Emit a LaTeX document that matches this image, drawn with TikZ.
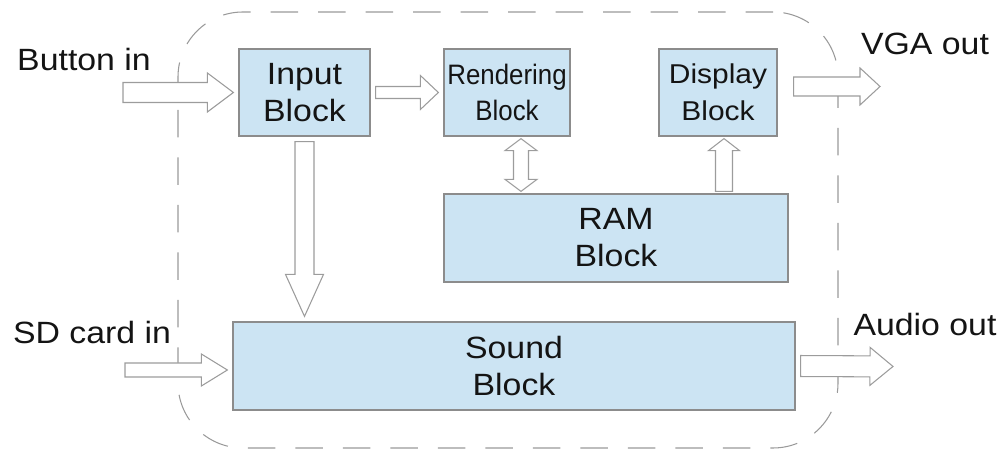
\documentclass[tikz,border=0pt]{standalone}
\usepackage{fontspec}
\setmainfont{Liberation Sans}[FakeStretch=1.1]
\newfontfamily\narrowFont{Liberation Sans}[FakeStretch=0.92]
\usetikzlibrary{positioning, calc}
\definecolor{blockBlue}{HTML}{CCE4F3}
\definecolor{blockEdge}{HTML}{8C8C8C}
\definecolor{arrowEdge}{HTML}{9C9C9C}
\definecolor{frameGray}{HTML}{9A9A9A}
\definecolor{inkBlack}{HTML}{141414}

\begin{document}
\begin{tikzpicture}[
    arrGap/.store in=\arrGap, arrGap=1mm,
    ioBlock/.style={draw=blockEdge, line width=0.7pt, rectangle, fill=blockBlue, text=inkBlack, align=center, inner sep=0pt, font=\fontsize{17.5}{21}\selectfont, minimum height=1.74cm},
    ioLabel/.style={text=inkBlack, inner sep=0pt, font=\fontsize{17.5}{21}\selectfont},
    chipFrame/.style={draw=frameGray, line width=0.6pt, rectangle, rounded corners=1.3cm, dash pattern=on 0.55cm off 0.4cm},
    fatArrow/.style n args={3}{draw=arrowEdge, fill=white, line width=0.6pt, to path={
        let \p1=($(\tikztostart)!\arrGap!(\tikztotarget)$), \p2=($(\tikztotarget)!\arrGap!(\tikztostart)$),
            \p3=($(\p2)-(\p1)$), \n1={veclen(\x3,\y3)}, \n2={atan2(\y3,\x3)} in
        [shift={(\p1)}, rotate=\n2]
        (0pt,-#1/2) -- ({\n1*1pt-#3},-#1/2) -- ({\n1*1pt-#3},-#2/2) -- ({\n1*1pt},0pt)
        -- ({\n1*1pt-#3},#2/2) -- ({\n1*1pt-#3},#1/2) -- (0pt,#1/2) -- cycle}},
    fatArrowBoth/.style n args={3}{draw=arrowEdge, fill=white, line width=0.6pt, to path={
        let \p1=($(\tikztostart)!\arrGap!(\tikztotarget)$), \p2=($(\tikztotarget)!\arrGap!(\tikztostart)$),
            \p3=($(\p2)-(\p1)$), \n1={veclen(\x3,\y3)}, \n2={atan2(\y3,\x3)} in
        [shift={(\p1)}, rotate=\n2]
        (0pt,0pt) -- (#3,#2/2) -- (#3,#1/2) -- ({\n1*1pt-#3},#1/2) -- ({\n1*1pt-#3},#2/2) -- ({\n1*1pt},0pt)
        -- ({\n1*1pt-#3},-#2/2) -- ({\n1*1pt-#3},-#1/2) -- (#3,-#1/2) -- (#3,-#2/2) -- cycle}},
]
\useasboundingbox (0,0) rectangle (20.06,9.10);
\node[chipFrame, minimum width=13.2cm, minimum height=8.72cm] (chip) at (10.16,4.5) {};
\node[ioBlock, minimum width=2.62cm] (inb) at (6.09,7.25) {Input\\Block};
\node[ioBlock, minimum width=2.52cm, font=\narrowFont\fontsize{16}{21}\selectfont] (rend) at (10.14,7.25) {Rendering\\Block};
\node[ioBlock, minimum width=2.36cm, font=\fontsize{15.5}{21}\selectfont] (disp) at (14.36,7.25) {Display\\Block};
\node[ioBlock, minimum width=6.88cm, minimum height=1.76cm] (ram) at (12.32,4.34) {RAM\\Block};
\node[ioBlock, minimum width=11.24cm, minimum height=1.76cm] (snd) at (10.28,1.78) {Sound\\Block};
\node[ioLabel] (btnLbl) at (1.68,7.9) {Button in};
\node[ioLabel] (sdLbl) at (1.84,2.44) {SD card in};
\node[ioLabel] (vgaLbl) at (18.5,8.22) {VGA out};
\node[ioLabel] (audLbl) at (18.5,2.6) {Audio out};
\coordinate (btnTail) at (2.36,7.25);
\coordinate (sdTail) at (2.40,1.70);
\coordinate (vgaTail) at ([xshift=0.22cm, yshift=0.12cm]disp.east);
\coordinate (vgaTip) at (17.7,7.37);
\coordinate (audTip) at (17.96,1.77);
\coordinate (rendLink) at ([xshift=0.28cm]rend.south);
\coordinate (dispLink) at ([xshift=0.12cm]disp.south);
\coordinate (sdTip) at ([yshift=-0.08cm]snd.west);
\draw[fatArrow={0.40cm}{0.78cm}{0.52cm}] (btnTail) to (inb.west);
\draw[fatArrow={0.24cm}{0.68cm}{0.36cm}] (inb.east) to (rend.west);
\draw[fatArrow={0.38cm}{0.76cm}{0.84cm}] (inb.south) to (inb.south |- snd.north);
\draw[fatArrowBoth={0.30cm}{0.64cm}{0.24cm}, arrGap=0.4mm] (rendLink) to (rendLink |- ram.north);
\draw[fatArrow={0.34cm}{0.62cm}{0.24cm}, arrGap=0.4mm] (dispLink |- ram.north) to (dispLink);
\draw[fatArrow={0.38cm}{0.74cm}{0.40cm}] (vgaTail) to (vgaTip);
\draw[fatArrow={0.42cm}{0.76cm}{0.46cm}] (snd.east) to (audTip);
\draw[fatArrow={0.28cm}{0.64cm}{0.52cm}] (sdTail) to (sdTip);
\end{tikzpicture}
\end{document}
